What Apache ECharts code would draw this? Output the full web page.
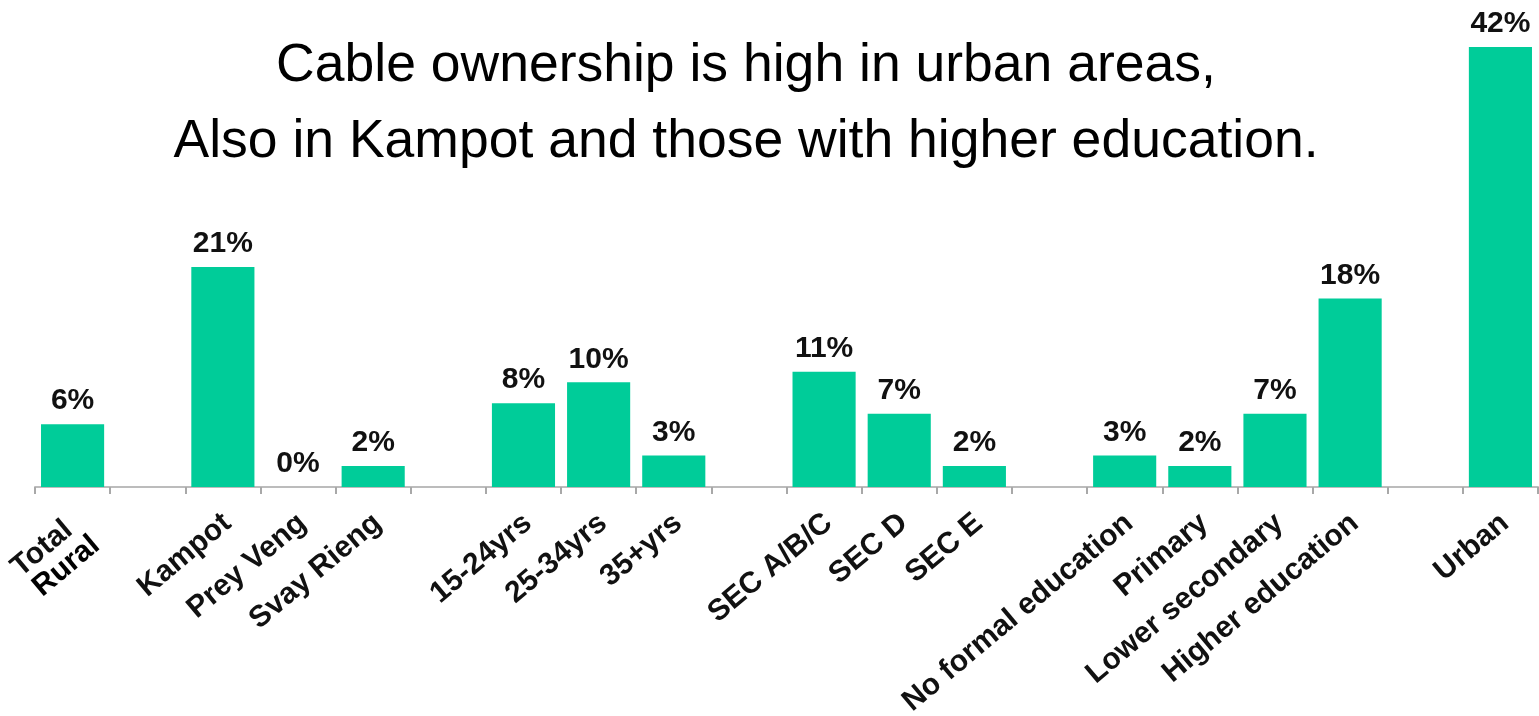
<!DOCTYPE html>
<html>
<head>
<meta charset="utf-8">
<script src="https://cdn.jsdelivr.net/npm/echarts@6/dist/echarts.min.js"></script>
<style>
html,body{margin:0;padding:0;background:#fff;}
#chart{width:1539px;height:716px;}
</style>
</head>
<body>
<div id="chart"></div>
<script>
const titleLines = ['Cable ownership is high in urban areas,', 'Also in Kampot and those with higher education.'];
const categories = ['Total\nRural', '', 'Kampot', 'Prey Veng', 'Svay Rieng', '', '15-24yrs', '25-34yrs', '35+yrs', '', 'SEC A/B/C', 'SEC D', 'SEC E', '', 'No formal education', 'Primary', 'Lower secondary', 'Higher education', '', 'Urban'];
const values = [6, null, 21, 0, 2, null, 8, 10, 3, null, 11, 7, 2, null, 3, 2, 7, 18, null, 42];

const chart = echarts.init(document.getElementById('chart'));
chart.setOption({
  animation: false,
  backgroundColor: '#ffffff',
  title: {
    text: titleLines.join('\n'),
    left: 741,
    top: 23,
    textAlign: 'center',
    textStyle: {
      fontFamily: 'Liberation Sans, Arial, sans-serif',
      fontWeight: 'normal',
      fontSize: 53.5,
      lineHeight: 76,
      color: '#000'
    }
  },
  grid: { left: 35, right: 1, top: 47, bottom: 229, containLabel: false, outerBoundsMode: 'none' },
  xAxis: {
    type: 'category',
    data: categories,
    axisLine: { lineStyle: { color: '#bcbcbc', width: 2 } },
    axisTick: { show: true, interval: 0, length: 7, lineStyle: { color: '#a8a8a8', width: 2 } },
    axisLabel: {
      interval: 0,
      rotate: 40,
      margin: 27,
      verticalAlign: 'top',
      fontFamily: 'Liberation Sans, Arial, sans-serif',
      fontWeight: 'bold',
      fontSize: 30,
      lineHeight: 14,
      color: '#111',
      formatter: function (v) {
        if (v.indexOf('\n') >= 0) {
          const p = v.split('\n');
          return p[0] + '{s|}\n{r|' + p[1] + '}';
        }
        return v;
      },
      rich: {
        s: { width: 11, lineHeight: 14 },
        r: { fontFamily: 'Liberation Sans, Arial, sans-serif', fontWeight: 'bold', fontSize: 30, color: '#000', lineHeight: 44 }
      }
    }
  },
  yAxis: {
    type: 'value',
    min: 0,
    max: 42,
    show: false,
    splitLine: { show: false }
  },
  series: [{
    type: 'bar',
    data: values,
    barCategoryGap: '16%',
    itemStyle: { color: '#00cc99' },
    label: {
      show: true,
      position: 'top',
      distance: 8,
      formatter: '{c}%',
      fontFamily: 'Liberation Sans, Arial, sans-serif',
      fontWeight: 'bold',
      fontSize: 30,
      color: '#111'
    }
  }]
});
</script>
</body>
</html>
